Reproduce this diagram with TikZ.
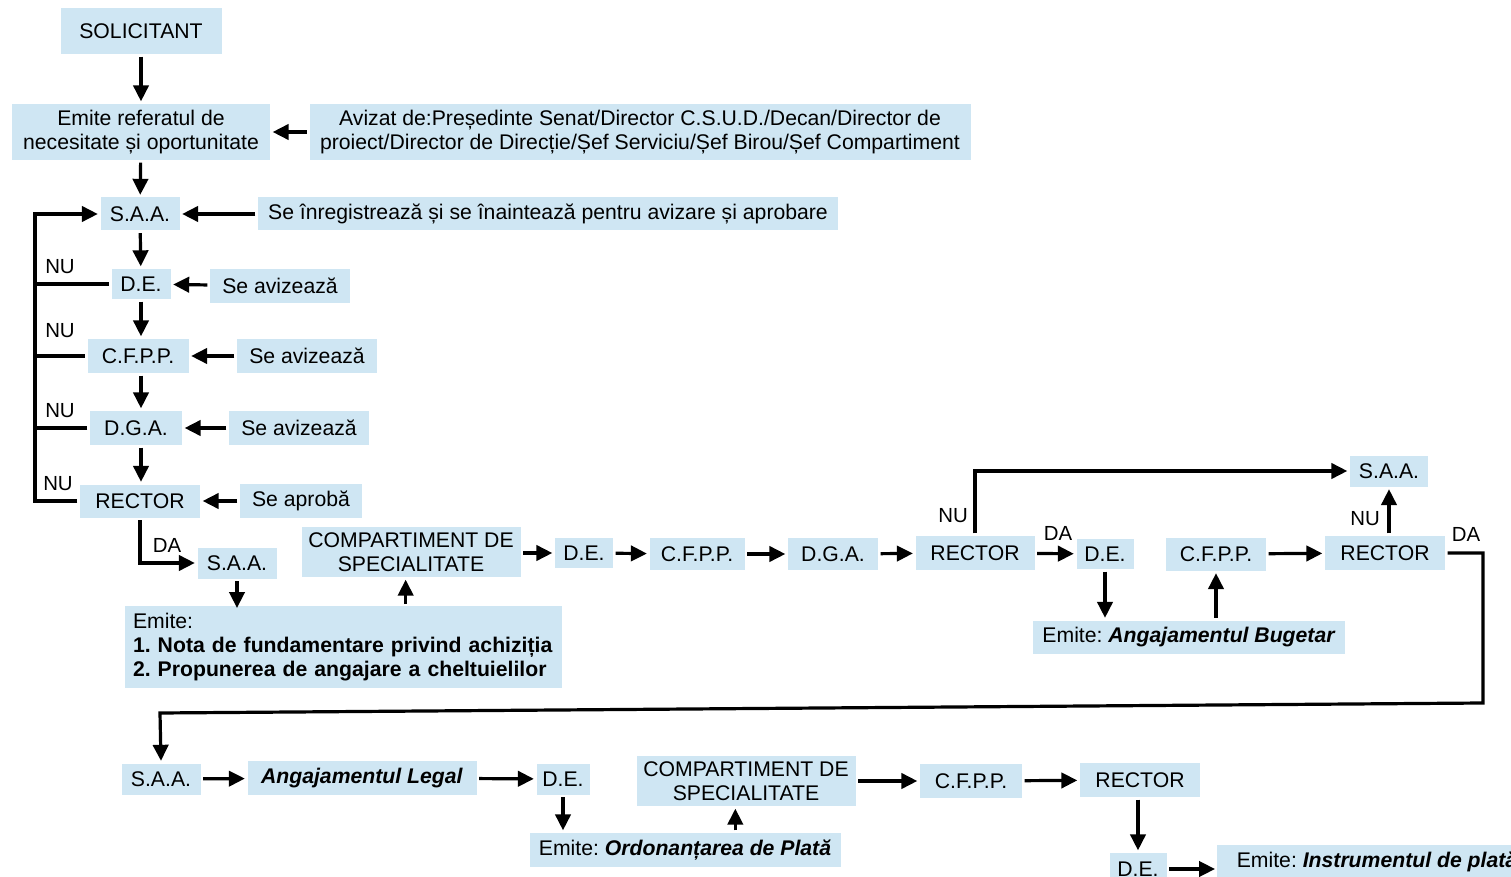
\documentclass[tikz,border=0pt]{standalone}
\usepackage{fontspec}
\setmainfont{Liberation Sans}
\usetikzlibrary{arrows.meta}
\definecolor{boxblue}{RGB}{207,230,243}
\frenchspacing
\tikzset{
  box/.style={fill=boxblue,inner sep=1pt,outer sep=2pt,align=center,
    font=\fontsize{15.9}{18}\selectfont},
  sz/.style 2 args={minimum width=#1*0.75pt,minimum height=#2*0.75pt},
  lbl/.style={inner sep=0pt,font=\fontsize{15.3}{18}\selectfont},
  ln/.style={line width=2.4pt},
  arr/.style={line width=2.4pt,-{Triangle[length=12pt,width=11.5pt]}}
}
\begin{document}
\begin{tikzpicture}[x=0.75pt,y=-0.75pt]
  \useasboundingbox (0,0) rectangle (1511,877);
  \clip (0,0) rectangle (1511,877);
  \node[box,sz={161}{46}] (sol) at (141,31) {SOLICITANT};
  \node[box,sz={258}{56}] (ref) at (141,132) {Emite referatul de\\necesitate și oportunitate};
  \node[box,sz={661}{56}] (aviz) at (640,132)
    {Avizat de:Președinte Senat/Director C.S.U.D./Decan/Director de\\proiect/Director de Direcție/Șef Serviciu/Șef Birou/Șef Compartiment};
  \node[box,sz={79}{33}] (saa1) at (140,214) {S.A.A.};
  \node[box,sz={580}{33}] (inreg) at (548,214) {Se înregistrează și se înaintează pentru avizare și aprobare};
  \node[box,sz={59}{30}] (de1) at (141,284) {D.E.};
  \node[box,sz={140}{34}] (av1) at (280,286) {Se avizează};
  \node[box,sz={101}{34}] (cfpp1) at (138,356) {C.F.P.P.};
  \node[box,sz={140}{34}] (av2) at (307,356) {Se avizează};
  \node[box,sz={92}{34}] (dga1) at (136,428) {D.G.A.};
  \node[box,sz={140}{34}] (av3) at (299,428) {Se avizează};
  \node[box,sz={120}{33}] (rec1) at (140,501) {RECTOR};
  \node[box,sz={122}{34}] (apr) at (301,501) {Se aprobă};
  \node[box,sz={79}{31}] (saa2) at (237,563) {S.A.A.};
  \node[box,sz={219}{50}] (comp1) at (411,552) {COMPARTIMENT DE\\SPECIALITATE};
  \node[box,sz={434}{82},outer sep=0pt,anchor=north west,align=left,inner xsep=6pt,text width=316pt] (emite1) at (125,606)
    {Emite:\\\textbf{1. Nota de fundamentare privind achiziția}\\\textbf{2. Propunerea de angajare a cheltuielilor}};
  \node[box,sz={58}{30}] (de2) at (584,553) {D.E.};
  \node[box,sz={95}{32}] (cfpp2) at (697,554) {C.F.P.P.};
  \node[box,sz={90}{32}] (dga2) at (833,554) {D.G.A.};
  \node[box,sz={119}{34}] (rec2) at (975,553) {RECTOR};
  \node[box,sz={57}{30}] (de3) at (1105,554) {D.E.};
  \node[box,sz={100}{33}] (cfpp3) at (1216,554) {C.F.P.P.};
  \node[box,sz={120}{34}] (rec3) at (1385,553) {RECTOR};
  \node[box,sz={78}{31}] (saa3) at (1389,471) {S.A.A.};
  \node[box,sz={312}{33}] (bug) at (1189,637) {Emite: \textbf{\textit{Angajamentul Bugetar}}};
  \node[box,sz={79}{31}] (saa4) at (161,779) {S.A.A.};
  \node[box,sz={229}{34}] (leg) at (362,778) {\textbf{\textit{Angajamentul Legal}}};
  \node[box,sz={53}{31}] (de4) at (563,779) {D.E.};
  \node[box,sz={219}{50}] (comp2) at (746,781) {COMPARTIMENT DE\\SPECIALITATE};
  \node[box,sz={311}{34}] (ord) at (685,850) {Emite: \textbf{\textit{Ordonanțarea de Plată}}};
  \node[box,sz={102}{34}] (cfpp4) at (971,781) {C.F.P.P.};
  \node[box,sz={120}{34}] (rec4) at (1140,780) {RECTOR};
  \node[box,sz={57}{32}] (de5) at (1138,869) {D.E.};
  \node[box,sz={320}{34},outer sep=0pt,anchor=west,align=left,inner xsep=14pt] (ins) at (1217,862)
    {Emite: \textbf{\textit{Instrumentul de plată}}};
  \coordinate (lx) at (35,0);
  \coordinate (c1) at (1483,703);
  \coordinate (c2) at (160,713);
  \coordinate (ec) at ([xshift=-4pt]comp1.south);
  \coordinate (oc) at ([xshift=-8pt]comp2.south);
  \draw[arr] (sol) -- (ref);
  \draw[arr] (aviz) -- (ref);
  \draw[arr] (ref) -- (saa1);
  \draw[arr] (inreg) -- (saa1);
  \draw[arr] (saa1) -- (de1);
  \draw[arr] (de1) -- (de1 |- cfpp1.north);
  \draw[arr] (cfpp1.south -| de1) -- (de1 |- dga1.north);
  \draw[arr] (dga1.south -| de1) -- (de1 |- rec1.north);
  \draw[arr] (av1) -- (de1);
  \draw[arr] (av2) -- (cfpp1);
  \draw[arr] (av3) -- (dga1);
  \draw[arr] (apr) -- (rec1);
  \draw[ln] (de1.west) -- (de1.west -| lx);
  \draw[ln] (cfpp1.west) -- (cfpp1.west -| lx);
  \draw[ln] (dga1.west) -- (dga1.west -| lx);
  \draw[arr] (rec1.west) -- (rec1.west -| lx) -- (saa1.west -| lx) -- (saa1.west);
  \node[lbl] (nu1) at (60,267) {NU};
  \node[lbl] (nu2) at (60,331) {NU};
  \node[lbl] (nu3) at (60,411) {NU};
  \node[lbl] (nu4) at (58,484) {NU};
  \draw[arr] (rec1.south) |- (saa2.west);
  \node[lbl] (da1) at (167,545) {DA};
  \draw[arr] (saa2) -- ([yshift=-1.5pt]saa2 |- emite1.north);
  \draw[arr] ([yshift=1.5pt]ec |- emite1.north) -- (ec);
  \draw[arr] (comp1.east |- de2) -- (de2);
  \draw[arr] (de2) -- (cfpp2);
  \draw[arr] (cfpp2) -- (dga2);
  \draw[arr] (dga2) -- (rec2);
  \draw[arr] (rec2) -- (de3);
  \node[lbl] (da2) at (1058,533) {DA};
  \draw[arr] (rec2.north) |- (saa3.west);
  \node[lbl] (nu5) at (953,516) {NU};
  \draw[arr] (de3) -- (de3 |- bug.north);
  \draw[arr] (bug.north -| cfpp3) -- (cfpp3);
  \draw[arr] (cfpp3) -- (rec3);
  \draw[arr] (rec3.north -| saa3) -- (saa3);
  \node[lbl] (nu6) at (1365,519) {NU};
  \node[lbl] (da3) at (1466,534) {DA};
  \draw[arr] (rec3.east) -- (rec3.east -| c1) -- (c1) -- (c2) -- (saa4.north);
  \draw[arr] (saa4) -- (leg);
  \draw[arr] (leg) -- (de4);
  \draw[arr] (de4) -- (de4 |- ord.north);
  \draw[arr] (oc |- ord.north) -- (oc);
  \draw[arr] (comp2) -- (cfpp4);
  \draw[arr] (cfpp4) -- (rec4);
  \draw[arr] (rec4.south -| de5) -- (de5);
  \draw[arr] (de5) -- ([xshift=-1.5pt]de5 -| ins.west);
\end{tikzpicture}
\end{document}
